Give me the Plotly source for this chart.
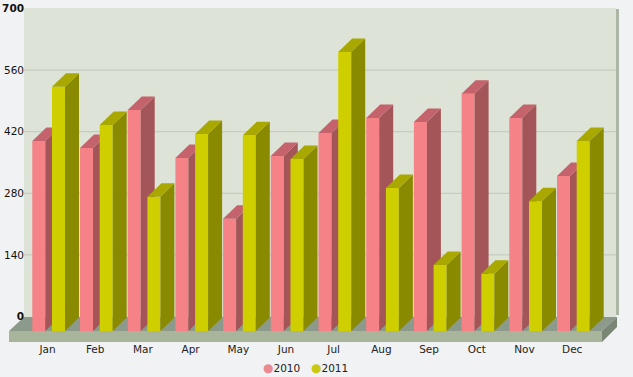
import plotly.graph_objects as go

months = ["Jan", "Feb", "Mar", "Apr", "May", "Jun", "Jul", "Aug", "Sep", "Oct", "Nov", "Dec"]
sales_2010 = [432, 416, 502, 393, 255, 398, 450, 484, 475, 539, 484, 352]
sales_2011 = [555, 468, 305, 448, 445, 391, 634, 325, 150, 130, 295, 432]
y_ticks = [0, 140, 280, 420, 560, 700]
y_tick_text = ["<b>0</b>", "140", "280", "420", "560", "<b>700</b>"]

W, H = 633, 377
PX_X = 47.7
PX_Y = 0.44
X0 = 47.5
Y0 = 316.5


def ux(px):
    return (px - X0) / PX_X


def uy(px):
    return (Y0 - px) / PX_Y


BASE = uy(331)
DX = 14 / PX_X
DY = 13.5 / PX_Y
BAR_W = 13 / PX_X


def polys(xs, vals):
    side_x, side_y, top_x, top_y = [], [], [], []
    for x, v in zip(xs, vals):
        t = BASE + v
        r = x + BAR_W
        side_x += [r, r + DX, r + DX, r, r, None]
        side_y += [BASE, BASE + DY, t + DY, t, BASE, None]
        top_x += [x, r, r + DX, x + DX, x, None]
        top_y += [t, t, t + DY, t + DY, t, None]
    return side_x, side_y, top_x, top_y


def path(pts):
    return "M" + " L".join(f"{ux(a):.4f},{uy(b):.2f}" for a, b in pts) + " Z"


fig = go.Figure()
series = [
    ("2010", sales_2010, -15.2 / PX_X, "#f48286", "#a35558", "#c4636b", "x", "y"),
    ("2011", sales_2011, 4.5 / PX_X, "#cfcf00", "#8a8a00", "#a8a800", "x2", "y2"),
]
for name, vals, off, front, side, top, xa, ya in series:
    xs = [i + off for i in range(len(vals))]
    sx, sy, tx, ty = polys(xs, vals)
    fig.add_bar(x=xs, y=vals, base=BASE, width=BAR_W, offset=0, marker=dict(color=front, line_width=0),
                name=name, showlegend=False, xaxis=xa, yaxis=ya)
    fig.add_scatter(x=sx, y=sy, fill="toself", fillcolor=side, mode="none", showlegend=False,
                    hoverinfo="skip", xaxis=xa, yaxis=ya)
    fig.add_scatter(x=tx, y=ty, fill="toself", fillcolor=top, mode="none", showlegend=False,
                    hoverinfo="skip", xaxis=xa, yaxis=ya)

shapes = []


def poly(pts, color):
    shapes.append(dict(type="path", path=path(pts), fillcolor=color, line_width=0, layer="below",
                       xref="x", yref="y"))


poly([(616, 9), (619, 9), (619, 315), (616, 315)], "#adb5a5")
poly([(24, 8), (616, 8), (616, 317), (24, 317)], "#dde3d7")
for v in y_ticks[1:-1]:
    shapes.append(dict(type="line", x0=ux(24), x1=ux(616), y0=v, y1=v, xref="x", yref="y",
                       line=dict(color="#bfc7ba", width=1), layer="below"))
poly([(9, 331), (24, 317), (617, 317), (602, 331)], "#8b9a8a")
poly([(602, 331), (617, 317), (617, 327), (602, 342)], "#7a8574")
poly([(9, 331), (602, 331), (602, 342), (9, 342)], "#a8b59a")

xr = [ux(0), ux(W)]
yr = [uy(H), uy(0)]
fig.update_layout(
    width=W, height=H, margin=dict(l=0, r=0, t=0, b=0), paper_bgcolor="#f1f2f3", plot_bgcolor="rgba(0,0,0,0)",
    showlegend=False, barmode="overlay", shapes=shapes, font=dict(family="DejaVu Sans", color="#222222"),
    xaxis=dict(range=xr, tickmode="array", tickvals=list(range(12)), ticktext=months, showgrid=False,
               zeroline=False, showline=False, ticks="", anchor="free", position=1 - 341 / H,
               tickfont=dict(size=10.5), domain=[0, 1]),
    yaxis=dict(range=yr, tickmode="array", tickvals=y_ticks, ticktext=y_tick_text, showgrid=False,
               zeroline=False, showline=False, ticks="", anchor="free", position=24 / W,
               tickfont=dict(size=10.5, color="#111111"), domain=[0, 1]),
    xaxis2=dict(range=xr, overlaying="x", visible=False),
    yaxis2=dict(range=yr, overlaying="y", visible=False),
    annotations=[
        dict(xref="paper", yref="paper", x=x / W, y=1 - 368 / H, showarrow=False, xanchor="left", yanchor="middle",
             text=f'<span style="color:{c};font-size:12px">●</span>{t}', font=dict(size=10.5, color="#222222"))
        for x, c, t in [(261, "#ea8a90", "2010"), (309, "#c9c910", "2011")]
    ],
)
fig.write_html(
    "out.html",
    config={"displayModeBar": False},
    post_script="document.body.style.margin='0';document.body.style.background='#f1f2f3';"
                "document.documentElement.style.overflow='hidden';",
)
